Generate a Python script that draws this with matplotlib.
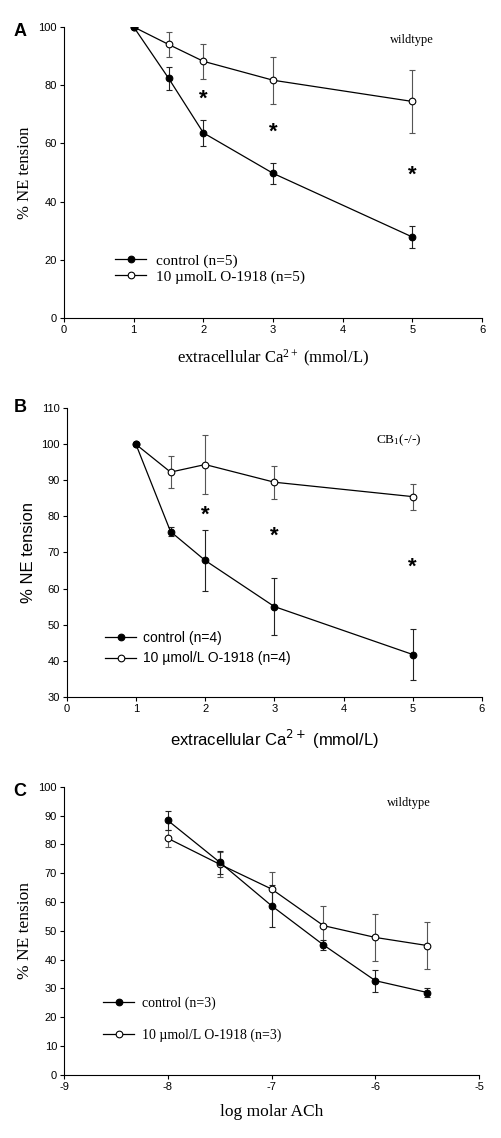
import matplotlib
matplotlib.use("Agg")
import matplotlib.pyplot as plt

plt.rcParams["axes.unicode_minus"] = False
plt.rcParams["mathtext.fontset"] = "custom"
plt.rcParams["mathtext.rm"] = "Liberation Serif"
plt.rcParams["mathtext.it"] = "Liberation Serif:italic"

# panel A - wildtype, Ca2+
ca_x = [1, 1.5, 2, 3, 5]
a_ctrl = [100, 82.4, 63.6, 49.7, 27.8]
a_ctrl_err = [0, 4.0, 4.5, 3.5, 3.7]
a_o1918 = [100, 94.0, 88.2, 81.7, 74.4]
a_o1918_err = [0, 4.4, 6.1, 8.0, 10.8]
a_star_x = [2, 3, 5]
a_star_y = [75.2, 63.7, 49.2]

# panel B - CB1(-/-), Ca2+
b_ctrl = [100, 75.8, 67.8, 55.0, 41.7]
b_ctrl_err = [0, 1.3, 8.5, 7.8, 7.0]
b_o1918 = [100, 92.3, 94.4, 89.5, 85.5]
b_o1918_err = [0, 4.4, 8.3, 4.6, 3.6]
b_star_x = [2, 3, 5]
b_star_y = [80.3, 74.6, 66.0]

# panel C - wildtype, ACh
ach_x = [-8, -7.5, -7, -6.5, -6, -5.5]
c_ctrl = [88.3, 73.8, 58.7, 45.1, 32.7, 28.6]
c_ctrl_err = [3.2, 4.0, 7.2, 1.7, 3.8, 1.5]
c_o1918 = [82.1, 73.1, 64.5, 51.8, 47.7, 44.9]
c_o1918_err = [3.0, 4.4, 6.0, 6.8, 8.2, 8.1]

serif = "Liberation Serif"
sans = "Liberation Sans"

fig = plt.figure(figsize=(5.02, 11.38), dpi=100)
axA = fig.add_axes([0.1275, 0.7206, 0.833, 0.2557])
axB = fig.add_axes([0.133, 0.3878, 0.827, 0.2534])
axC = fig.add_axes([0.1275, 0.0554, 0.827, 0.2533])


def style(ax):
    for s in ["top", "right"]:
        ax.spines[s].set_visible(False)
    for s in ["left", "bottom"]:
        ax.spines[s].set_linewidth(0.8)
    ax.tick_params(direction="out", length=3, width=0.8, labelsize=8, pad=2)
    for lab in ax.get_xticklabels() + ax.get_yticklabels():
        lab.set_fontfamily(sans)


def series(ax, x, y, err, filled, label, err_col):
    ax.errorbar(x, y, yerr=err, fmt="none", ecolor=err_col, elinewidth=0.8,
                capsize=2, capthick=0.8, zorder=2)
    ax.plot(x, y, "-o", color="black", lw=0.9, ms=4.8, mec="black", mew=0.8,
            mfc="black" if filled else "white", label=label, zorder=3)


# ---- A
series(axA, ca_x, a_o1918, a_o1918_err, False, "10 \u00b5molL O-1918 (n=5)", "#555555")
series(axA, ca_x, a_ctrl, a_ctrl_err, True, "control (n=5)", "#222222")
axA.set_xlim(0, 6)
axA.set_ylim(0, 100)
axA.set_xticks(range(0, 7))
axA.set_yticks(range(0, 101, 20))
style(axA)
for sx, sy in zip(a_star_x, a_star_y):
    axA.text(sx, sy, "*", ha="center", va="center", fontsize=16, fontweight="bold", family=sans)
axA.text(4.99, 95.6, "wildtype", ha="center", va="center", fontsize=9, family=serif)
axA.set_ylabel("% NE tension", fontsize=12, family=serif, labelpad=4)
axA.set_xlabel("extracellular Ca$^{2+}$ (mmol/L)", fontsize=12, family=serif, labelpad=9)
h, l = axA.get_legend_handles_labels()
axA.legend(h[::-1], l[::-1], loc="lower left", bbox_to_anchor=(0.09, 0.07), frameon=False,
           prop={"family": serif, "size": 11}, handlelength=2.0, handletextpad=0.65,
           labelspacing=0.15)

# ---- B
series(axB, ca_x, b_o1918, b_o1918_err, False, "10 \u00b5mol/L O-1918 (n=4)", "#555555")
series(axB, ca_x, b_ctrl, b_ctrl_err, True, "control (n=4)", "#222222")
axB.set_xlim(0, 6)
axB.set_ylim(30, 110)
axB.set_xticks(range(0, 7))
axB.set_yticks(range(30, 111, 10))
style(axB)
for sx, sy in zip(b_star_x, b_star_y):
    axB.text(sx, sy, "*", ha="center", va="center", fontsize=16, fontweight="bold", family=sans)
axB.text(4.8, 101.2, "CB$_{1}$(-/-)", ha="center", va="center", fontsize=9.5, family=serif)
axB.set_ylabel("% NE tension", fontsize=12, family=sans, labelpad=4)
axB.set_xlabel("extracellular Ca$^{2+}$ (mmol/L)", fontsize=12, family=sans, labelpad=10,
               math_fontfamily="dejavusans")
h, l = axB.get_legend_handles_labels()
axB.legend(h[::-1], l[::-1], loc="lower left", bbox_to_anchor=(0.063, 0.065), frameon=False,
           prop={"family": sans, "size": 10}, handlelength=2.2, handletextpad=0.5,
           labelspacing=0.45)

# ---- C
series(axC, ach_x, c_o1918, c_o1918_err, False, "10 \u00b5mol/L O-1918 (n=3)", "#555555")
series(axC, ach_x, c_ctrl, c_ctrl_err, True, "control (n=3)", "#222222")
axC.set_xlim(-9, -5)
axC.set_ylim(0, 100)
axC.set_xticks(range(-9, -4))
axC.set_yticks(range(0, 101, 10))
style(axC)
axC.text(-5.68, 94.2, "wildtype", ha="center", va="center", fontsize=9, family=serif)
axC.set_ylabel("% NE tension", fontsize=12.5, family=serif, labelpad=4)
axC.set_xlabel("log molar ACh", fontsize=12.5, family=serif, labelpad=9)
h, l = axC.get_legend_handles_labels()
axC.legend(h[::-1], l[::-1], loc="lower left", bbox_to_anchor=(0.065, 0.07), frameon=False,
           prop={"family": serif, "size": 10}, handlelength=2.2, handletextpad=0.55,
           labelspacing=1.35)

# panel letters
for lab, ypx in [("A", 32), ("B", 407), ("C", 792)]:
    fig.text(20 / 502, 1 - ypx / 1138, lab, ha="center", va="center", fontsize=13,
             fontweight="bold", family=sans)

fig.savefig("out.png", dpi=100, facecolor="white")
